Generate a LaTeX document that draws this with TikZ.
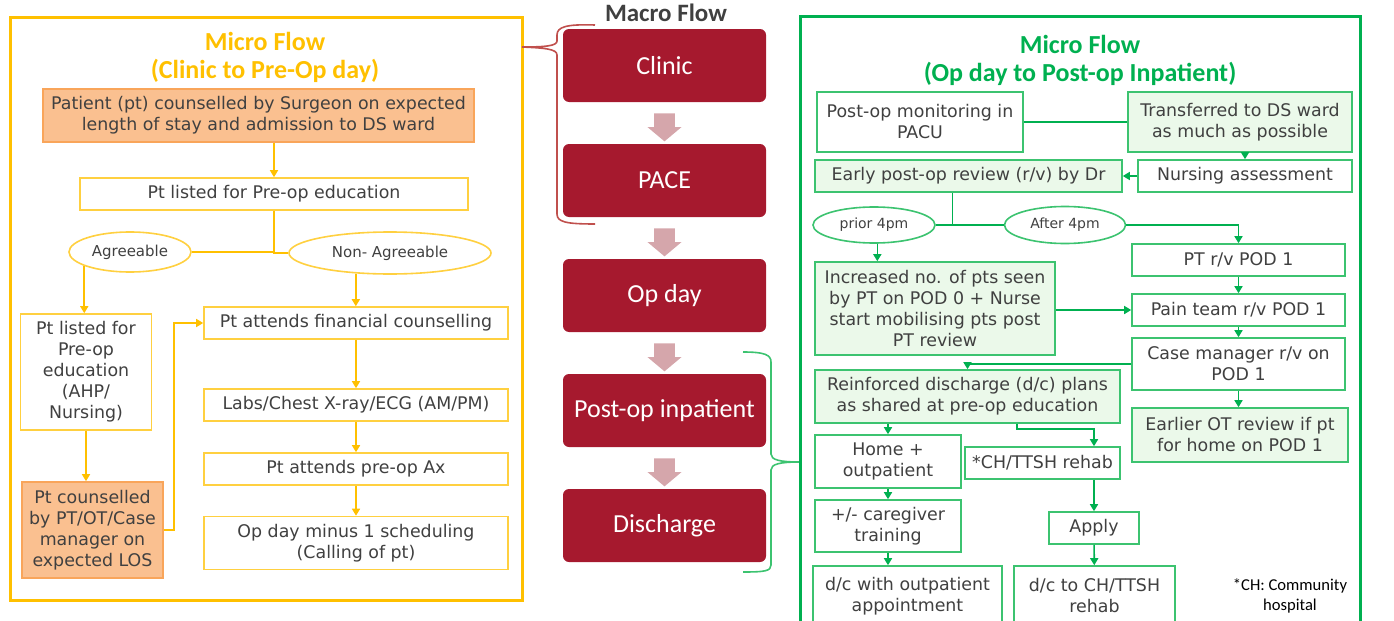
\documentclass[tikz,border=0pt]{standalone}
\usepackage{fontspec}
\setmainfont{DejaVu Sans}
\newfontfamily\calib{Carlito}
\usetikzlibrary{shapes.geometric,shapes.arrows,arrows.meta,calc}

\definecolor{ylwline}{HTML}{FFC000}
\definecolor{ylwbox}{HTML}{FFD040}
\definecolor{orgfill}{HTML}{FAC090}
\definecolor{orgline}{HTML}{F9A55A}
\definecolor{txtgray}{HTML}{404040}
\definecolor{grnline}{HTML}{00B050}
\definecolor{grnbox}{HTML}{3CC370}
\definecolor{grnfill}{HTML}{EBF9EA}
\definecolor{macrored}{HTML}{A6192E}
\definecolor{macroarr}{HTML}{D5A6AB}
\definecolor{bracered}{HTML}{C0504D}

\newlength{\du}
\setlength{\du}{0.5pt}

\tikzset{
  ybox/.style={draw=ylwbox, line width=0.8pt, fill=white, text=txtgray, align=center,
    inner sep=0pt, font=\fontsize{8.7}{10.5}\selectfont},
  obox/.style={ybox, draw=orgline, fill=orgfill},
  yell/.style={ybox, ellipse, font=\fontsize{7.5}{9}\selectfont},
  gbox/.style={ybox, draw=grnbox},
  gfbox/.style={gbox, fill=grnfill},
  gell/.style={gbox, ellipse, font=\fontsize{7}{9}\selectfont},
  yframe/.style={draw=ylwline, line width=1.5pt},
  gframe/.style={draw=grnline, line width=1.5pt},
  yline/.style={draw=ylwline, line width=0.8pt},
  yarr/.style={yline, -{Triangle[length=3.5pt,width=4pt]}},
  gline/.style={draw=grnline, line width=0.8pt},
  garr/.style={gline, -{Triangle[length=3.5pt,width=4pt]}},
  ytitle/.style={text=ylwline, align=center, font=\calib\bfseries\fontsize{13}{14}\selectfont},
  gtitle/.style={ytitle, text=grnline},
  macro/.style={fill=macrored, rounded corners=3pt, text=white, inner sep=0pt,
    font=\calib\fontsize{13}{14}\selectfont, minimum width=203\du, minimum height=73\du},
  blkarr/.style={single arrow, fill=macroarr, rotate=-90, inner xsep=0pt, inner ysep=10\du,
    minimum height=28\du, single arrow head extend=6.5\du, single arrow tip angle=100},
  note/.style={text=black, align=center, font=\calib\fontsize{8.3}{10}\selectfont}
}

\begin{document}
\begin{tikzpicture}
\pgftransformyscale{-1.000000}
\useasboundingbox (0\du,0\du) rectangle (1394\du,621\du);

% left: clinic to pre-op day
\draw[yframe] (10\du,17\du) rectangle (522\du,600\du);
\node[ytitle] (ltitle) at (265\du,57\du) {Micro Flow\\(Clinic to Pre-Op day)};
\node[obox, minimum width=431\du, minimum height=53\du] (lcoun) at (258.5\du,115.5\du)
  {Patient (pt) counselled by Surgeon on expected\\length of stay and admission to DS ward};
\node[ybox, minimum width=388\du, minimum height=32\du] (llist) at (274\du,194\du)
  {Pt listed for Pre-op education};
\node[yell, minimum width=122\du, minimum height=40\du] (lagree) at (130\du,252\du) {Agreeable};
\node[yell, minimum width=202\du, minimum height=42\du] (lnon) at (390\du,253\du) {Non- Agreeable};
\node[ybox, minimum width=131\du, minimum height=116\du] (lahp) at (86\du,372\du)
  {Pt listed for\\Pre-op\\education\\(AHP/\\Nursing)};
\node[obox, minimum width=141\du, minimum height=96\du] (lpto) at (92.5\du,530\du)
  {Pt counselled\\by PT/OT/Case\\manager on\\expected LOS};
\node[ybox, minimum width=304\du, minimum height=32\du] (lfin) at (356\du,323\du)
  {Pt attends financial counselling};
\node[ybox, minimum width=304\du, minimum height=32\du] (llabs) at (356\du,405\du)
  {Labs/Chest X-ray/ECG (AM/PM)};
\node[ybox, minimum width=304\du, minimum height=32\du] (lax) at (356\du,469\du)
  {Pt attends pre-op Ax};
\node[ybox, minimum width=304\du, minimum height=53\du] (lopd) at (356\du,543\du)
  {Op day minus 1 scheduling\\(Calling of pt)};

\draw[yarr] (lcoun.south -| llist.north) -- (llist.north);
\draw[yline] (llist.south) |- (lnon.west);
\draw[yline] (lagree.east) -- (lagree.east -| llist.south);
\draw[yarr] (lagree.-163) -- (lagree.-163 |- lahp.north);
\draw[yarr] (lnon.-149) -- (lnon.-149 |- lfin.north);
\draw[yarr] (lahp.south) -- (lahp.south |- lpto.north);
\draw[yarr] (lpto.east) -- ++(10\du,0) |- (lfin.west);
\draw[yarr] (lfin) -- (llabs);
\draw[yarr] (llabs) -- (lax);
\draw[yarr] (lax) -- (lopd);

% centre: macro flow
\node[text=txtgray, font=\calib\bfseries\fontsize{12.5}{14}\selectfont] (mtitle) at (666\du,13\du) {Macro Flow};
\node[macro] (clinic) at (664.5\du,65.5\du) {Clinic};
\node[macro] (pace) at (664.5\du,180.5\du) {PACE};
\node[macro] (opday) at (664.5\du,295.5\du) {Op day};
\node[macro] (postop) at (664.5\du,410.5\du) {Post-op inpatient};
\node[macro] (dischg) at (664.5\du,525.5\du) {Discharge};
\foreach \a/\b [count=\i] in {clinic/pace, pace/opday, opday/postop, postop/dischg}
  \node[blkarr] (marr\i) at ($(\a.south)!0.5!(\b.north)$) {};

% braces
\draw[bracered, line width=0.8pt] (595\du,25\du) .. controls (566\du,24\du) and (557\du,27\du) .. (557\du,35\du)
  -- (557\du,41\du) .. controls (557\du,46\du) and (545\du,47\du) .. (522\du,47\du)
  .. controls (545\du,48\du) and (557\du,49\du) .. (557\du,55\du)
  -- (557\du,214\du) .. controls (557\du,222\du) and (566\du,224\du) .. (595\du,224\du);
\draw[grnbox, line width=0.8pt] (743\du,352\du) .. controls (765\du,352\du) and (771\du,355\du) .. (771\du,362\du)
  -- (771\du,454\du) .. controls (771\du,460\du) and (780\du,462\du) .. (800\du,462\du)
  .. controls (780\du,462\du) and (771\du,464\du) .. (771\du,470\du)
  -- (771\du,565\du) .. controls (771\du,571\du) and (765\du,572\du) .. (743\du,572\du);

% right: op day to post-op inpatient
\draw[gframe] (800\du,16\du) rectangle (1360\du,640\du);
\node[gtitle] (rtitle) at (1080\du,60\du) {Micro Flow\\(Op day to Post-op Inpatient)};
\node[gbox, minimum width=206\du, minimum height=60\du] (rpacu) at (920\du,122\du)
  {Post-op monitoring in\\PACU};
\node[gfbox, minimum width=224\du, minimum height=60\du] (rtrans) at (1240\du,122\du)
  {Transferred to DS ward\\as much as possible};
\node[gbox, minimum width=214\du, minimum height=32\du] (rnurse) at (1245\du,176\du)
  {Nursing assessment};
\node[gfbox, minimum width=307\du, minimum height=32\du] (rearly) at (968.5\du,176\du)
  {Early post-op review (r/v) by Dr};
\node[gell, minimum width=122\du, minimum height=36\du] (rpri) at (874\du,225\du) {prior 4pm};
\node[gell, minimum width=121\du, minimum height=37\du] (raft) at (1065\du,225\du) {After 4pm};
\node[gfbox, minimum width=240\du, minimum height=93\du] (rincr) at (935\du,308.5\du)
  {Increased no. of pts seen\\by PT on POD 0 + Nurse\\start mobilising pts post\\PT review};
\node[gbox, minimum width=213\du, minimum height=32\du] (rptrv) at (1238.5\du,260\du) {PT r/v POD 1};
\node[gbox, minimum width=213\du, minimum height=32\du] (rpain) at (1238.5\du,310\du) {Pain team r/v POD 1};
\node[gbox, minimum width=213\du, minimum height=52\du] (rcase) at (1238.5\du,364\du)
  {Case manager r/v on\\POD 1};
\node[gfbox, minimum width=216\du, minimum height=54\du] (rot) at (1240\du,435\du)
  {Earlier OT review if pt\\for home on POD 1};
\node[gfbox, minimum width=305\du, minimum height=53\du] (rreinf) at (967.5\du,396.5\du)
  {Reinforced discharge (d/c) plans\\as shared at pre-op education};
\node[gbox, minimum width=146\du, minimum height=53\du] (rhome) at (888\du,461.5\du) {Home +\\outpatient};
\node[gbox, minimum width=155\du, minimum height=32\du] (rch) at (1042.5\du,463\du) {*CH/TTSH rehab};
\node[gbox, minimum width=146\du, minimum height=52\du] (rcare) at (888\du,526\du) {+/- caregiver\\training};
\node[gbox, minimum width=90\du, minimum height=32\du] (rapply) at (1094\du,528\du) {Apply};
\node[gbox, minimum width=189\du, minimum height=60\du] (rdcout) at (907.5\du,596\du)
  {d/c with outpatient\\appointment};
\node[gbox, minimum width=161\du, minimum height=60\du] (rdcch) at (1094.5\du,596\du)
  {d/c to CH/TTSH\\rehab};
\node[note] (rnote) at (1290\du,596\du) {*CH: Community\\hospital};

\draw[gline] (rpacu.east) -- (rtrans.west);
\draw[garr] (rtrans.south -| rnurse.north) -- (rnurse.north);
\draw[garr] (rnurse.west) -- (rearly.east);
\draw[gline] ([xshift=-16\du]rearly.south) -- ([xshift=-16\du]rearly.south |- rpri.east);
\draw[gline] (rpri.east) -- (raft.west);
\draw[garr] (raft.east) -| (rptrv.north);
\draw[garr] (rpri.-80) -- (rpri.-80 |- rincr.north);
\draw[garr] (rincr.east |- rpain.west) -- (rpain.west);
\draw[garr] (rptrv) -- (rpain);
\draw[garr] (rpain) -- (rcase);
\draw[garr] (rcase.south) -- (rcase.south |- rot.north);
\draw[garr] (rcase.west) -| (rreinf.north);
\draw[garr] (rreinf.south -| rhome.north) -- (rhome.north);
\draw[garr] ([xshift=49.5\du]rreinf.south) -- ++(0,5\du) -| (rapply.north |- rch.north);
\draw[garr] (rhome) -- (rcare);
\draw[garr] (rcare.south) -- (rcare.south |- rdcout.north);
\draw[garr] (rapply.north |- rch.south) -- (rapply.north);
\draw[garr] (rapply) -- (rdcch);
\end{tikzpicture}
\end{document}
